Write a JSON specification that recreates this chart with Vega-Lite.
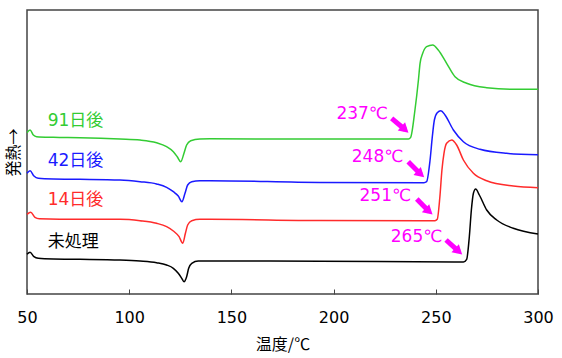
{
  "$schema": "https://vega.github.io/schema/vega-lite/v6.json",
  "width": 511,
  "height": 284,
  "autosize": "none",
  "padding": {"left": 27, "top": 10, "right": 24, "bottom": 64},
  "config": {
    "view": {"stroke": "#444444", "strokeWidth": 1.5},
    "font": "DejaVu Sans, Noto Sans CJK JP"
  },
  "datasets": {
    "curves": [
      {"s": "91日後", "t": 50, "v": 161.3}, {"s": "91日後", "t": 51.5, "v": 164}, {"s": "91日後", "t": 53.1, "v": 159}, {"s": "91日後", "t": 54.7, "v": 157.3}, {"s": "91日後", "t": 62.9, "v": 156.7}, {"s": "91日後", "t": 75.9, "v": 156.3}, {"s": "91日後", "t": 95.5, "v": 155}, {"s": "91日後", "t": 105.3, "v": 154}, {"s": "91日後", "t": 113.4, "v": 151.3}, {"s": "91日後", "t": 118.3, "v": 147.3}, {"s": "91日後", "t": 121.6, "v": 142.3}, {"s": "91日後", "t": 123.5, "v": 137.3}, {"s": "91日後", "t": 125.2, "v": 132.3}, {"s": "91日後", "t": 126.8, "v": 140.7}, {"s": "91日後", "t": 128.1, "v": 149}, {"s": "91日後", "t": 130.1, "v": 153.3}, {"s": "91日後", "t": 134.6, "v": 155}, {"s": "91日後", "t": 139.5, "v": 155.2}, {"s": "91日後", "t": 193.3, "v": 155}, {"s": "91日後", "t": 236.6, "v": 155}, {"s": "91日後", "t": 237.7, "v": 156.7}, {"s": "91日後", "t": 239.8, "v": 184}, {"s": "91日後", "t": 241.5, "v": 214}, {"s": "91日後", "t": 242.3, "v": 230.7}, {"s": "91日後", "t": 243.6, "v": 240.7}, {"s": "91日後", "t": 245.5, "v": 247.3}, {"s": "91日後", "t": 248.5, "v": 249}, {"s": "91日後", "t": 251.2, "v": 244}, {"s": "91日後", "t": 255.3, "v": 230.7}, {"s": "91日後", "t": 259.4, "v": 217.3}, {"s": "91日後", "t": 265.1, "v": 210.7}, {"s": "91日後", "t": 274.9, "v": 206.3}, {"s": "91日後", "t": 287.9, "v": 204.7}, {"s": "91日後", "t": 300, "v": 204.7},
      {"s": "42日後", "t": 50, "v": 120.7}, {"s": "42日後", "t": 51.5, "v": 123.3}, {"s": "42日後", "t": 53.4, "v": 118}, {"s": "42日後", "t": 55.5, "v": 115.7}, {"s": "42日後", "t": 62.9, "v": 115}, {"s": "42日後", "t": 75.9, "v": 114.7}, {"s": "42日後", "t": 95.5, "v": 114}, {"s": "42日後", "t": 105.3, "v": 112.3}, {"s": "42日後", "t": 113.4, "v": 110}, {"s": "42日後", "t": 118.3, "v": 106.7}, {"s": "42日後", "t": 121.6, "v": 102.3}, {"s": "42日後", "t": 124, "v": 98}, {"s": "42日後", "t": 125.8, "v": 92.3}, {"s": "42日後", "t": 127.3, "v": 100.7}, {"s": "42日後", "t": 128.6, "v": 109}, {"s": "42日後", "t": 130.6, "v": 112.3}, {"s": "42日後", "t": 134.6, "v": 113.3}, {"s": "42日後", "t": 139.5, "v": 113.3}, {"s": "42日後", "t": 193.3, "v": 111.5}, {"s": "42日後", "t": 244.2, "v": 111.3}, {"s": "42日後", "t": 245.5, "v": 112.3}, {"s": "42日後", "t": 247.2, "v": 134}, {"s": "42日後", "t": 248.3, "v": 157.3}, {"s": "42日後", "t": 249.3, "v": 174}, {"s": "42日後", "t": 250.7, "v": 181.3}, {"s": "42日後", "t": 252.5, "v": 183.3}, {"s": "42日後", "t": 254.5, "v": 179}, {"s": "42日後", "t": 258.6, "v": 164}, {"s": "42日後", "t": 263.5, "v": 152.3}, {"s": "42日後", "t": 271.6, "v": 144.7}, {"s": "42日後", "t": 284.7, "v": 140.7}, {"s": "42日後", "t": 300, "v": 139.3},
      {"s": "14日後", "t": 50, "v": 79.7}, {"s": "14日後", "t": 51.8, "v": 81.7}, {"s": "14日後", "t": 53.9, "v": 76.7}, {"s": "14日後", "t": 56, "v": 75.3}, {"s": "14日後", "t": 75.9, "v": 74.7}, {"s": "14日後", "t": 95.5, "v": 74.7}, {"s": "14日後", "t": 105.3, "v": 73.3}, {"s": "14日後", "t": 113.4, "v": 70.7}, {"s": "14日後", "t": 118.3, "v": 67.3}, {"s": "14日後", "t": 121.6, "v": 63}, {"s": "14日後", "t": 124.4, "v": 57.3}, {"s": "14日後", "t": 126.2, "v": 50.7}, {"s": "14日後", "t": 127.5, "v": 60.7}, {"s": "14日後", "t": 128.6, "v": 69}, {"s": "14日後", "t": 130.6, "v": 73.3}, {"s": "14日後", "t": 134.6, "v": 74.7}, {"s": "14日後", "t": 139.5, "v": 74.7}, {"s": "14日後", "t": 193.3, "v": 73.5}, {"s": "14日後", "t": 249.6, "v": 73.3}, {"s": "14日後", "t": 250.7, "v": 74.7}, {"s": "14日後", "t": 252, "v": 97.3}, {"s": "14日後", "t": 253, "v": 124}, {"s": "14日後", "t": 254, "v": 140.7}, {"s": "14日後", "t": 255.3, "v": 150.7}, {"s": "14日後", "t": 257.8, "v": 154}, {"s": "14日後", "t": 260.2, "v": 149}, {"s": "14日後", "t": 263.5, "v": 134}, {"s": "14日後", "t": 268.4, "v": 120.7}, {"s": "14日後", "t": 274.9, "v": 113.3}, {"s": "14日後", "t": 287.9, "v": 108}, {"s": "14日後", "t": 300, "v": 106.3},
      {"s": "未処理", "t": 50, "v": 39.7}, {"s": "未処理", "t": 51.5, "v": 41.7}, {"s": "未処理", "t": 53.4, "v": 37.3}, {"s": "未処理", "t": 55.5, "v": 35.7}, {"s": "未処理", "t": 62.9, "v": 35}, {"s": "未処理", "t": 75.9, "v": 34.7}, {"s": "未処理", "t": 95.5, "v": 34}, {"s": "未処理", "t": 105.3, "v": 33}, {"s": "未処理", "t": 113.4, "v": 31.3}, {"s": "未処理", "t": 118.3, "v": 29}, {"s": "未処理", "t": 121.6, "v": 25.7}, {"s": "未処理", "t": 124, "v": 20.7}, {"s": "未処理", "t": 125.7, "v": 15.7}, {"s": "未処理", "t": 126.8, "v": 12.3}, {"s": "未処理", "t": 128.1, "v": 17.3}, {"s": "未処理", "t": 129.1, "v": 25.7}, {"s": "未処理", "t": 130.6, "v": 30.7}, {"s": "未処理", "t": 133.8, "v": 33}, {"s": "未処理", "t": 150, "v": 33}, {"s": "未処理", "t": 193.3, "v": 32.8}, {"s": "未処理", "t": 263.5, "v": 32}, {"s": "未処理", "t": 265.1, "v": 34.7}, {"s": "未処理", "t": 266.4, "v": 57.3}, {"s": "未処理", "t": 267.4, "v": 84}, {"s": "未処理", "t": 268.4, "v": 100.7}, {"s": "未処理", "t": 269.5, "v": 105}, {"s": "未処理", "t": 271.3, "v": 99}, {"s": "未処理", "t": 274.9, "v": 84}, {"s": "未処理", "t": 279.8, "v": 74}, {"s": "未処理", "t": 287.9, "v": 65.7}, {"s": "未処理", "t": 300, "v": 60}
    ],
    "serieslabels": [
      {"s": "91日後", "t": 60.1, "v": 173},
      {"s": "42日後", "t": 60.1, "v": 133},
      {"s": "14日後", "t": 60.1, "v": 94},
      {"s": "未処理", "t": 60.1, "v": 52.3}
    ],
    "onsets": [
      {"label": "237℃", "t": 226.6, "v": 180.2, "t1": 228.4, "v1": 175.7, "th": 234.9, "vh": 164.5},
      {"label": "248℃", "t": 234.1, "v": 136.7, "t1": 236.5, "v1": 132.3, "th": 242.6, "vh": 119.8},
      {"label": "251℃", "t": 237.9, "v": 98.3, "t1": 240.7, "v1": 95, "th": 246.7, "vh": 82.6},
      {"label": "265℃", "t": 253.2, "v": 56.7, "t1": 255.0, "v1": 54, "th": 261.2, "vh": 42.6}
    ]
  },
  "encoding": {
    "x": {
      "field": "t", "type": "quantitative",
      "scale": {"domain": [50, 300], "nice": false, "zero": false},
      "axis": {
        "title": "温度/℃", "values": [50, 100, 150, 200, 250, 300],
        "domain": false, "grid": false, "labelFlush": false,
        "tickSize": -5, "tickColor": "#444444", "tickWidth": 1,
        "labelPadding": 20.5, "labelFontSize": 16, "labelColor": "#000000", "labelFont": "DejaVu Sans",
        "titleFontSize": 16, "titleFontWeight": "normal", "titleColor": "#000000", "titleFont": "Noto Sans CJK JP", "titlePadding": 10.5
      }
    },
    "y": {
      "field": "v", "type": "quantitative",
      "scale": {"domain": [0, 284], "nice": false, "zero": false},
      "axis": {
        "title": "発熱→", "labels": false, "ticks": false, "domain": false, "grid": false,
        "titleFontSize": 16, "titleFontWeight": "normal", "titleColor": "#000000", "titleFont": "Noto Sans CJK JP", "titlePadding": 6
      }
    }
  },
  "layer": [
    {
      "data": {"name": "curves"},
      "mark": {"type": "line", "interpolate": "monotone", "strokeWidth": 1.5},
      "encoding": {
        "color": {"field": "s", "type": "nominal", "legend": null,
          "scale": {"domain": ["未処理", "14日後", "42日後", "91日後"], "range": ["#000000", "#ff2b2b", "#1a1aff", "#33cc33"]}}
      }
    },
    {
      "data": {"name": "serieslabels"},
      "mark": {"type": "text", "align": "left", "baseline": "middle", "fontSize": 17, "font": "DejaVu Sans, Noto Sans CJK JP"},
      "encoding": {
        "text": {"field": "s"},
        "color": {"field": "s", "type": "nominal", "legend": null,
          "scale": {"domain": ["未処理", "14日後", "42日後", "91日後"], "range": ["#000000", "#ff2b2b", "#1a1aff", "#33cc33"]}}
      }
    },
    {
      "data": {"name": "onsets"},
      "mark": {"type": "text", "align": "right", "baseline": "middle", "fontSize": 17, "color": "#ff00ff", "font": "DejaVu Sans, Noto Sans CJK JP"},
      "encoding": {"text": {"field": "label"}}
    },
    {
      "data": {"name": "onsets"},
      "mark": {"type": "rule", "color": "#ff00ff", "strokeWidth": 5},
      "encoding": {
        "x": {"field": "t1", "type": "quantitative"},
        "y": {"field": "v1", "type": "quantitative"},
        "x2": {"field": "th"},
        "y2": {"field": "vh"}
      }
    },
    {
      "data": {"name": "onsets"},
      "mark": {"type": "point", "shape": "triangle-up", "filled": true, "color": "#ff00ff", "opacity": 1, "size": 120, "angle": 132},
      "encoding": {
        "x": {"field": "th", "type": "quantitative"},
        "y": {"field": "vh", "type": "quantitative"}
      }
    }
  ]
}
